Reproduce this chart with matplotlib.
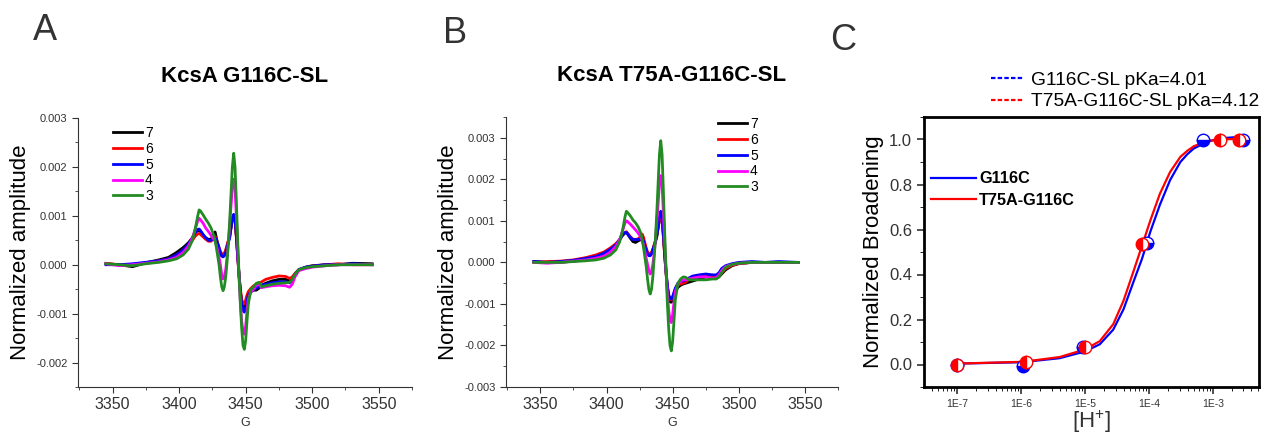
import numpy as np
import matplotlib
matplotlib.use('Agg')
import matplotlib.pyplot as plt
from matplotlib.lines import Line2D
from matplotlib.ticker import MultipleLocator, FuncFormatter, LogLocator, NullFormatter

plt.rcParams['font.family'] = ['Liberation Sans', 'DejaVu Sans']
plt.rcParams['mathtext.default'] = 'regular'

#%% EPR spectra (amplitude in units of 1e-3)
field = [3345, 3355, 3365, 3375, 3385, 3392, 3398, 3403, 3407, 3410, 3412, 3414, 3415, 3416,
         3418, 3420, 3422, 3424, 3426, 3427, 3428, 3430, 3431, 3432, 3433, 3434, 3435, 3436,
         3437, 3438, 3439, 3440, 3441, 3442, 3443, 3444, 3445, 3446, 3447, 3448, 3449, 3450,
         3451, 3452, 3454, 3456, 3458, 3460, 3462, 3465, 3470, 3475, 3480, 3483, 3485, 3487,
         3490, 3495, 3500, 3510, 3520, 3530, 3545]

ph_labels = ['7', '6', '5', '4', '3']
ph_colors = ['#000000', '#ff0000', '#0000ff', '#ff00ff', '#228b22']

# panel A : KcsA G116C-SL
a_ph7 = [0.02, 0.0, -0.04, 0.04, 0.1, 0.15, 0.25, 0.35, 0.45, 0.55, 0.65, 0.7, 0.72, 0.68,
         0.6, 0.55, 0.52, 0.52, 0.62, 0.67, 0.55, 0.3, 0.22, 0.18, 0.18, 0.2, 0.28, 0.38,
         0.48, 0.58, 0.76, 0.95, 1.0, 0.92, 0.58, 0.18, -0.2, -0.52, -0.75, -0.87, -0.9, -0.82,
         -0.7, -0.6, -0.55, -0.52, -0.52, -0.48, -0.42, -0.38, -0.33, -0.3, -0.3, -0.33, -0.3, -0.2,
         -0.1, -0.05, -0.02, 0.0, 0.0, 0.03, 0.02]
a_ph6 = [0.03, 0.0, 0.0, 0.04, 0.08, 0.12, 0.2, 0.3, 0.4, 0.5, 0.58, 0.63, 0.64, 0.62,
         0.57, 0.52, 0.48, 0.48, 0.55, 0.58, 0.52, 0.35, 0.27, 0.22, 0.21, 0.24, 0.3, 0.4,
         0.5, 0.6, 0.78, 0.95, 1.0, 0.9, 0.55, 0.15, -0.2, -0.5, -0.7, -0.8, -0.8, -0.72,
         -0.62, -0.55, -0.48, -0.43, -0.4, -0.38, -0.35, -0.3, -0.26, -0.23, -0.24, -0.28, -0.25, -0.18,
         -0.1, -0.06, -0.03, 0.0, 0.02, 0.0, 0.0]
a_ph5 = [0.0, 0.0, 0.02, 0.05, 0.08, 0.12, 0.2, 0.3, 0.42, 0.55, 0.65, 0.72, 0.73, 0.7,
         0.62, 0.55, 0.5, 0.5, 0.53, 0.55, 0.5, 0.35, 0.25, 0.18, 0.16, 0.18, 0.25, 0.35,
         0.45, 0.55, 0.75, 0.95, 1.03, 0.95, 0.6, 0.2, -0.2, -0.55, -0.8, -0.93, -0.97, -0.88,
         -0.75, -0.62, -0.55, -0.5, -0.48, -0.45, -0.42, -0.4, -0.37, -0.35, -0.35, -0.37, -0.32, -0.2,
         -0.1, -0.05, -0.03, 0.0, 0.0, 0.02, 0.0]
a_ph4 = [0.02, -0.02, 0.0, 0.03, 0.06, 0.1, 0.15, 0.25, 0.38, 0.55, 0.72, 0.9, 0.95, 0.92,
         0.85, 0.75, 0.68, 0.6, 0.52, 0.48, 0.4, 0.15, 0.0, -0.2, -0.29, -0.25, -0.1, 0.15,
         0.45, 0.8, 1.2, 1.6, 1.75, 1.55, 1.0, 0.35, -0.25, -0.75, -1.15, -1.38, -1.42, -1.25,
         -0.95, -0.7, -0.55, -0.5, -0.42, -0.4, -0.47, -0.45, -0.43, -0.42, -0.43, -0.46, -0.4, -0.25,
         -0.12, -0.08, -0.05, -0.02, 0.0, 0.0, 0.0]
a_ph3 = [0.02, 0.0, -0.02, 0.02, 0.05, 0.08, 0.12, 0.2, 0.32, 0.5, 0.72, 1.0, 1.12, 1.1,
         1.02, 0.93, 0.85, 0.75, 0.6, 0.5, 0.35, 0.0, -0.25, -0.45, -0.53, -0.45, -0.25, 0.05,
         0.45, 0.9, 1.45, 2.0, 2.28, 2.0, 1.3, 0.5, -0.2, -0.8, -1.3, -1.65, -1.73, -1.55,
         -1.15, -0.8, -0.5, -0.45, -0.38, -0.36, -0.45, -0.43, -0.4, -0.38, -0.37, -0.36, -0.3, -0.2,
         -0.1, -0.06, -0.04, -0.02, 0.0, 0.0, 0.0]

# panel B : KcsA T75A-G116C-SL
b_ph7 = [0.02, 0.0, 0.0, 0.03, 0.08, 0.13, 0.2, 0.3, 0.42, 0.55, 0.65, 0.71, 0.72, 0.68,
         0.58, 0.5, 0.48, 0.52, 0.55, 0.55, 0.5, 0.3, 0.22, 0.18, 0.18, 0.22, 0.3, 0.4,
         0.5, 0.62, 0.82, 1.02, 1.12, 1.0, 0.62, 0.15, -0.25, -0.6, -0.85, -0.95, -0.96, -0.9,
         -0.8, -0.7, -0.6, -0.55, -0.52, -0.5, -0.48, -0.45, -0.4, -0.35, -0.33, -0.35, -0.35, -0.28,
         -0.18, -0.08, -0.03, 0.0, 0.0, 0.0, 0.0]
b_ph6 = [0.0, 0.02, 0.03, 0.06, 0.12, 0.18, 0.25, 0.35, 0.45, 0.55, 0.65, 0.72, 0.74, 0.7,
         0.62, 0.56, 0.55, 0.57, 0.62, 0.68, 0.6, 0.35, 0.25, 0.2, 0.2, 0.24, 0.32, 0.42,
         0.52, 0.65, 0.85, 1.05, 1.12, 1.0, 0.62, 0.15, -0.25, -0.58, -0.8, -0.88, -0.9, -0.85,
         -0.75, -0.65, -0.55, -0.52, -0.5, -0.47, -0.42, -0.38, -0.33, -0.3, -0.32, -0.35, -0.32, -0.25,
         -0.15, -0.07, -0.03, 0.0, 0.0, 0.0, 0.0]
b_ph5 = [0.02, 0.0, 0.02, 0.05, 0.1, 0.14, 0.22, 0.32, 0.42, 0.55, 0.65, 0.72, 0.72, 0.68,
         0.6, 0.55, 0.55, 0.55, 0.58, 0.6, 0.5, 0.3, 0.2, 0.16, 0.16, 0.2, 0.3, 0.4,
         0.5, 0.65, 0.85, 1.1, 1.23, 1.1, 0.7, 0.2, -0.2, -0.55, -0.78, -0.86, -0.88, -0.82,
         -0.72, -0.62, -0.5, -0.45, -0.45, -0.42, -0.38, -0.33, -0.3, -0.28, -0.3, -0.3, -0.25, -0.15,
         -0.08, -0.03, 0.0, 0.02, 0.0, 0.02, 0.0]
b_ph4 = [0.0, -0.02, 0.0, 0.03, 0.06, 0.1, 0.15, 0.25, 0.38, 0.55, 0.75, 0.95, 1.0, 0.98,
         0.92, 0.85, 0.78, 0.7, 0.6, 0.52, 0.42, 0.1, -0.05, -0.2, -0.28, -0.22, -0.05, 0.2,
         0.55, 0.95, 1.4, 1.9, 2.09, 1.85, 1.2, 0.45, -0.2, -0.75, -1.15, -1.4, -1.45, -1.25,
         -0.95, -0.7, -0.52, -0.45, -0.42, -0.42, -0.4, -0.38, -0.35, -0.35, -0.38, -0.37, -0.3, -0.2,
         -0.1, -0.05, -0.02, 0.0, 0.0, 0.0, 0.0]
b_ph3 = [0.0, 0.0, 0.0, 0.02, 0.04, 0.06, 0.1, 0.18, 0.3, 0.5, 0.75, 1.1, 1.23, 1.2,
         1.12, 1.02, 0.95, 0.85, 0.7, 0.55, 0.35, -0.1, -0.4, -0.65, -0.76, -0.65, -0.35, 0.1,
         0.6, 1.2, 1.9, 2.6, 2.93, 2.6, 1.7, 0.7, -0.2, -1.0, -1.6, -2.0, -2.13, -1.9,
         -1.4, -0.9, -0.5, -0.4, -0.35, -0.36, -0.42, -0.42, -0.42, -0.42, -0.4, -0.4, -0.35, -0.25,
         -0.12, -0.05, -0.02, 0.0, 0.0, 0.0, 0.0]

#%% Titration (panel C)
h_g116c = [1e-7, 1.05e-6, 9.3e-6, 9.3e-5, 6.9e-4, 3.0e-3]
y_g116c = [0.0, -0.005, 0.08, 0.54, 1.0, 1.0]
h_t75a = [1e-7, 1.2e-6, 1.0e-5, 7.8e-5, 1.3e-3, 2.6e-3]
y_t75a = [0.0, 0.01, 0.08, 0.535, 1.0, 1.0]

# fitted curves (log10[H+], broadening)
fit_logh_g = [-7.0, -6.0, -5.4, -5.0, -4.77, -4.56, -4.40, -4.24, -4.11, -3.98, -3.83, -3.67,
              -3.51, -3.40, -3.30, -3.09, -2.89, -2.57, -2.47]
fit_y_g = [0.004, 0.01, 0.028, 0.058, 0.09, 0.155, 0.245, 0.37, 0.47, 0.59, 0.71, 0.82,
           0.90, 0.935, 0.96, 0.99, 1.005, 1.012, 1.012]
fit_logh_t = [-7.0, -5.97, -5.4, -5.0, -4.77, -4.56, -4.40, -4.24, -4.11, -3.98, -3.83, -3.67,
              -3.51, -3.40, -3.30, -3.09, -2.89, -2.57]
fit_y_t = [0.004, 0.012, 0.033, 0.067, 0.104, 0.179, 0.283, 0.417, 0.528, 0.64, 0.759, 0.856,
           0.923, 0.95, 0.97, 0.993, 1.0, 1.003]

#%% Figure
W, H = 1266, 436
fig = plt.figure(figsize=(W/100, H/100), dpi=100)

def box(l, r, t, b):
    return [l/W, 1-b/H, (r-l)/W, (b-t)/H]

def epr_panel(rect, series, ylim, yticks, title, leg_xy):
    ax = fig.add_axes(rect)
    for s, c, lab in zip(series, ph_colors, ph_labels):
        ax.plot(field, np.array(s)*1e-3, color=c, lw=2.0, label=lab)
    ax.set_xlim(3324, 3575)
    ax.set_ylim(*ylim)
    ax.set_yticks(yticks)
    ax.yaxis.set_major_formatter(FuncFormatter(lambda v, p: '%.3f' % v))
    ax.xaxis.set_major_locator(MultipleLocator(50))
    ax.xaxis.set_minor_locator(MultipleLocator(25))
    ax.yaxis.set_minor_locator(MultipleLocator(0.0005))
    for sp in ['top', 'right']:
        ax.spines[sp].set_visible(False)
    for sp in ['left', 'bottom']:
        ax.spines[sp].set_color('#333333')
    ax.tick_params(axis='y', which='major', labelsize=8, length=4, colors='#333333')
    ax.tick_params(axis='x', which='major', labelsize=11.5, length=4, colors='#333333')
    ax.tick_params(which='minor', length=2, color='#333333')
    ax.set_xlabel('G', fontsize=9, color='#333333', labelpad=3)
    ax.set_ylabel('Normalized amplitude', fontsize=16, labelpad=4)
    ax.set_title(title, fontsize=16, fontweight='bold', pad=26)
    ax.legend(loc='upper left', bbox_to_anchor=leg_xy, frameon=False, fontsize=10,
              handlelength=2.1, handletextpad=0.2, labelspacing=0.13,
              borderaxespad=0.0, borderpad=0.0)
    return ax

axA = epr_panel(box(78, 412, 118, 387), [a_ph7, a_ph6, a_ph5, a_ph4, a_ph3],
                (-0.0025, 0.003), np.arange(-0.002, 0.0031, 0.001),
                'KcsA G116C-SL', (0.105, 0.97))
axB = epr_panel(box(506, 838, 117, 387), [b_ph7, b_ph6, b_ph5, b_ph4, b_ph3],
                (-0.003, 0.0035), np.arange(-0.003, 0.0031, 0.001),
                'KcsA T75A-G116C-SL', (0.639, 1.0))

# panel C
axC = fig.add_axes(box(924, 1259, 117, 387))
lg, = axC.plot(10**np.array(fit_logh_g), fit_y_g, color='#0000ff', lw=1.6)
lt, = axC.plot(10**np.array(fit_logh_t), fit_y_t, color='#ff0000', lw=1.6)
axC.plot(h_g116c, y_g116c, 'o', ms=9, mec='#0000ff', mfc='#0000ff', mfcalt='white',
         fillstyle='bottom', mew=1.0, ls='none')
axC.plot(h_t75a, y_t75a, 'o', ms=9, mec='#ff0000', mfc='#ff0000', mfcalt='white',
         fillstyle='left', mew=1.0, ls='none')
axC.set_xscale('log')
axC.set_xlim(10**-7.52, 10**-2.28)
axC.set_ylim(-0.1, 1.1)
axC.yaxis.set_major_locator(MultipleLocator(0.2))
axC.yaxis.set_minor_locator(MultipleLocator(0.1))
axC.yaxis.set_major_formatter(FuncFormatter(lambda v, p: '%.1f' % v))
axC.xaxis.set_major_locator(LogLocator(base=10, numticks=10))
axC.xaxis.set_minor_locator(LogLocator(base=10, subs=np.arange(2, 10), numticks=20))
axC.xaxis.set_minor_formatter(NullFormatter())
axC.xaxis.set_major_formatter(FuncFormatter(lambda v, p: '1E%d' % round(np.log10(v))))
for sp in axC.spines.values():
    sp.set_linewidth(2)
axC.tick_params(axis='x', which='major', labelsize=7.5, length=5, width=1.2, colors='#333333')
axC.tick_params(axis='y', which='major', labelsize=12, length=5, width=1.2, colors='#333333')
axC.tick_params(which='minor', length=3)
axC.set_ylabel('Normalized Broadening', fontsize=16, labelpad=4)
axC.set_xlabel('[H$^{+}$]', fontsize=16, labelpad=0, color='#333333')
leg1 = axC.legend([lg, lt], ['G116C', 'T75A-G116C'], loc=(0.0, 0.64), frameon=False,
                  prop={'weight': 'bold', 'size': 11.7}, handlelength=2.8,
                  handletextpad=0.2, labelspacing=0.4)
axC.add_artist(leg1)
dash_b = Line2D([], [], color='#0000ff', ls=(0, (2, 1)), lw=1.6)
dash_r = Line2D([], [], color='#ff0000', ls=(0, (2, 1)), lw=1.6)
axC.legend([dash_b, dash_r], ['G116C-SL pKa=4.01', 'T75A-G116C-SL pKa=4.12'],
           loc='lower right', bbox_to_anchor=(1.0, 1.025), frameon=False, fontsize=13.8,
           handlelength=1.7, handletextpad=0.4, labelspacing=0.2, borderaxespad=0.0,
           borderpad=0.0)

# panel letters
for x, y, s in [(33, 40, 'A'), (443, 43, 'B'), (830, 50, 'C')]:
    fig.text(x/W, 1-y/H, s, fontsize=26, color='#333333', ha='left', va='baseline')

plt.savefig('out.png', dpi=100)
